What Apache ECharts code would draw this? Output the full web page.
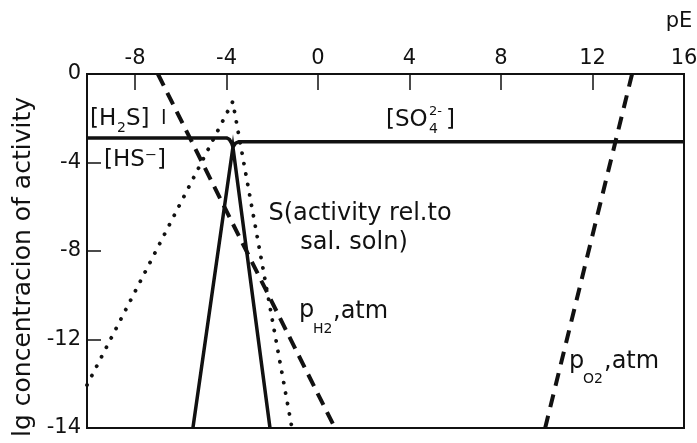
<!DOCTYPE html>
<html>
<head>
<meta charset="utf-8">
<script src="https://cdn.jsdelivr.net/npm/echarts@6/dist/echarts.min.js"></script>
<style>
  html, body { margin: 0; padding: 0; background: #fff; }
  #chart { width: 697px; height: 443px; }
</style>
</head>
<body>
<div id="chart"></div>
<script>
// pE axis (top) and lg activity axis (left)
const pERange = [-10.1, 16];
const pETicks = [-8, -4, 0, 4, 8, 12, 16];
const lgRange = [-16, 0];
const lgTickValues = [-16, -12, -8, -4, 0];
const lgTickLabels = ['-14', '-12', '-8', '-4', '0'];

// total dissolved sulfur: [H2S] plateau, dip at the S field, [SO4 2-] plateau
const sulfurSpecies = [[-10.1, -2.89], [-4.0, -2.89], [-3.88, -2.95], [-3.78, -3.12], [-3.72, -3.3],
                       [-3.6, -3.12], [-3.45, -3.06], [-3.3, -3.06], [16, -3.06]];
// elemental sulfur stability wedge
const sulfurWedge = [[-5.47, -16], [-3.72, -3.3], [-2.1, -16]];
// S activity relative to saline solution
const sulfurActivity = [[-10.1, -14.06], [-3.73, -1.25], [-1.14, -16]];
// hydrogen and oxygen partial pressures
const pH2 = [[-7.0, 0], [0.74, -16]];
const pO2 = [[13.73, 0], [9.93, -16]];

const FONT = 'DejaVu Sans';
const INK = '#111';

const chart = echarts.init(document.getElementById('chart'), null, { renderer: 'canvas' });

function txt(x, y, text, size, align, rotation) {
  return {
    type: 'text', x: x, y: y, silent: true, rotation: rotation || 0,
    style: {
      text: text, fill: INK, fontFamily: FONT, fontSize: size,
      align: align || 'left', verticalAlign: 'middle'
    }
  };
}

const option = {
  animation: false,
  backgroundColor: '#fff',
  grid: {
    left: 87, top: 74, width: 597, height: 354,
    containLabel: false, outerBoundsMode: 'none',
    show: true, borderColor: INK, borderWidth: 2, backgroundColor: 'transparent'
  },
  xAxis: {
    type: 'value', position: 'top',
    min: pERange[0], max: pERange[1],
    axisLine: { show: true, onZero: false, lineStyle: { color: INK, width: 2 } },
    axisTick: { show: true, inside: true, length: 16, customValues: pETicks.slice(0, -1), lineStyle: { color: INK, width: 1.5 } },
    axisLabel: { customValues: pETicks, margin: 5, fontFamily: FONT, fontSize: 21, color: INK, formatter: v => String(v) },
    splitLine: { show: false }
  },
  yAxis: {
    type: 'value', min: lgRange[0], max: lgRange[1], interval: 4,
    axisLine: { show: true, onZero: false, lineStyle: { color: INK, width: 2 } },
    axisTick: { show: true, inside: true, length: 14, lineStyle: { color: INK, width: 1.5 } },
    axisLabel: {
      margin: 6, fontFamily: FONT, fontSize: 21, color: INK,
      formatter: v => lgTickLabels[lgTickValues.indexOf(v)] ?? ''
    },
    splitLine: { show: false }
  },
  series: [
    {
      name: 'sulfur species', type: 'line', data: sulfurSpecies, showSymbol: false, z: 3,
      lineStyle: { color: INK, width: 3.5, join: 'round' }
    },
    {
      name: 'S wedge', type: 'line', data: sulfurWedge, showSymbol: false, z: 3,
      lineStyle: { color: INK, width: 3.5, join: 'miter' }
    },
    {
      name: 'S activity', type: 'line', data: sulfurActivity, showSymbol: false, z: 2,
      lineStyle: { color: INK, width: 3.8, type: [0.1, 10.5], cap: 'round' }
    },
    {
      name: 'pH2', type: 'line', data: pH2, showSymbol: false, z: 2,
      lineStyle: { color: INK, width: 4, type: [13, 8] }
    },
    {
      name: 'pO2', type: 'line', data: pO2, showSymbol: false, z: 2,
      lineStyle: { color: INK, width: 4, type: [13, 9] }
    }
  ],
  graphic: [
    // axis names
    txt(679, 22, 'pE', 21, 'center'),
    txt(23, 267, 'lg concentracion of activity', 25, 'center', Math.PI / 2),
    // [H2S] l
    txt(90, 119, '[H', 23),
    txt(117, 128, '2', 14),
    txt(126, 119, 'S]', 23),
    txt(161, 119, 'l', 20),
    // [HS-]
    txt(104, 160, '[HS\u207B]', 23),
    // [SO4 2-]
    txt(386, 120, '[SO', 23),
    txt(429, 112, '2-', 13),
    txt(429, 129, '4', 14),
    txt(446, 120, ']', 23),
    // S (activity ...)
    txt(360, 214, 'S(activity rel.to', 24, 'center'),
    txt(354, 243, 'sal. soln)', 24, 'center'),
    // pH2, atm
    txt(299, 311, 'p', 24),
    txt(313, 329, 'H2', 14),
    txt(333, 312, ',atm', 24),
    // pO2, atm
    txt(569, 362, 'p', 24),
    txt(583, 379, 'O2', 14),
    txt(604, 362, ',atm', 24)
  ]
};

chart.setOption(option);
</script>
</body>
</html>
